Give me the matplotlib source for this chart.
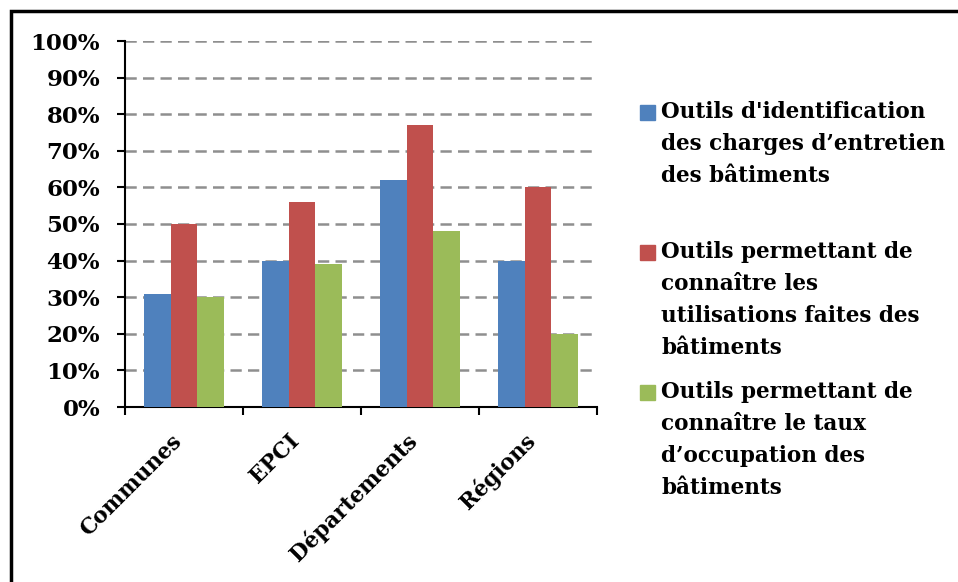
import matplotlib
matplotlib.use("Agg")
import matplotlib.pyplot as plt
from matplotlib.patches import Rectangle
from matplotlib.ticker import MultipleLocator, FuncFormatter, FixedLocator
from matplotlib.transforms import ScaledTranslation
import numpy as np

# data
categories = ["Communes", "EPCI", "Départements", "Régions"]
series_names = [
    "Outils d'identification\ndes charges d\u2019entretien\ndes bâtiments",
    "Outils permettant de\nconnaître les\nutilisations faites des\nbâtiments",
    "Outils permettant de\nconnaître le taux\nd\u2019occupation des\nbâtiments",
]
identification = [0.31, 0.40, 0.62, 0.40]
utilisations = [0.50, 0.56, 0.77, 0.60]
occupation = [0.30, 0.39, 0.48, 0.20]
colors = ["#4F81BD", "#C0504D", "#9BBB59"]

FONT = "DejaVu Serif"

W, H = 958, 582
fig = plt.figure(figsize=(W / 100, H / 100), dpi=100)
ax = fig.add_axes([125 / W, 1 - 407 / H, (597 - 125) / W, (407 - 41) / H])

x = np.arange(len(categories))
bw = 0.224
values = [identification, utilisations, occupation]
for i, (vals, col) in enumerate(zip(values, colors)):
    ax.bar(x + (i - 1) * bw, vals, width=bw, color=col, edgecolor="none",
           zorder=3)

ax.set_xlim(-0.5, len(categories) - 0.5)
ax.set_ylim(0, 1)

# y axis: percent ticks, dashed grid
ax.yaxis.set_major_locator(MultipleLocator(0.1))
ax.yaxis.set_major_formatter(FuncFormatter(lambda v, p: f"{v * 100:.0f}%"))
ax.yaxis.grid(True, linestyle=(0, (4.5, 2.5)), color="#8F8F8F", linewidth=1.8,
              zorder=1)
ax.set_axisbelow(True)

# x axis: ticks at category boundaries, labels at centres
ax.xaxis.set_major_locator(FixedLocator(np.arange(len(categories) + 1) - 0.5))
ax.xaxis.set_major_formatter(FuncFormatter(lambda v, p: ""))
ax.set_xticks(x, categories, minor=True)
ax.tick_params(axis="x", which="minor", length=0, pad=20)
ax.tick_params(axis="x", which="major", direction="out", length=6, width=1.5)
ax.tick_params(axis="y", direction="out", length=6, width=1.5, pad=12)

shift = ScaledTranslation(-6 / 100, -3 / 100, fig.dpi_scale_trans)
for lab in ax.get_xticklabels(minor=True):
    lab.set_rotation(45)
    lab.set_rotation_mode("anchor")
    lab.set_ha("right")
    lab.set_va("center")
    lab.set_fontfamily(FONT)
    lab.set_fontweight("bold")
    lab.set_fontsize(15.5)
    lab.set_transform(lab.get_transform() + shift)
for lab in ax.get_yticklabels():
    lab.set_fontfamily(FONT)
    lab.set_fontweight("bold")
    lab.set_fontsize(16.5)

for s in ["top", "right"]:
    ax.spines[s].set_visible(False)
for s in ["left", "bottom"]:
    ax.spines[s].set_linewidth(1.5)
    ax.spines[s].set_color("black")

# legend drawn by hand to keep Excel's even spacing
leg_tops = [103, 243, 383]
for name, col, top in zip(series_names, colors, leg_tops):
    fig.patches.append(Rectangle((640 / W, 1 - (top + 17) / H), 15 / W, 15 / H,
                                 transform=fig.transFigure, color=col))
    fig.text(661 / W, 1 - (top - 2) / H, name, fontfamily=FONT,
             fontweight="bold", fontsize=15.5, va="top", ha="left",
             linespacing=1.58)

# outer frame (clipped by the image on the right and bottom)
fig.patches.append(Rectangle((11 / W, -0.2), 1.5, 1.2 - 11 / H,
                             transform=fig.transFigure, fill=False,
                             edgecolor="black", linewidth=2.5))

fig.savefig("out.png", dpi=100)
